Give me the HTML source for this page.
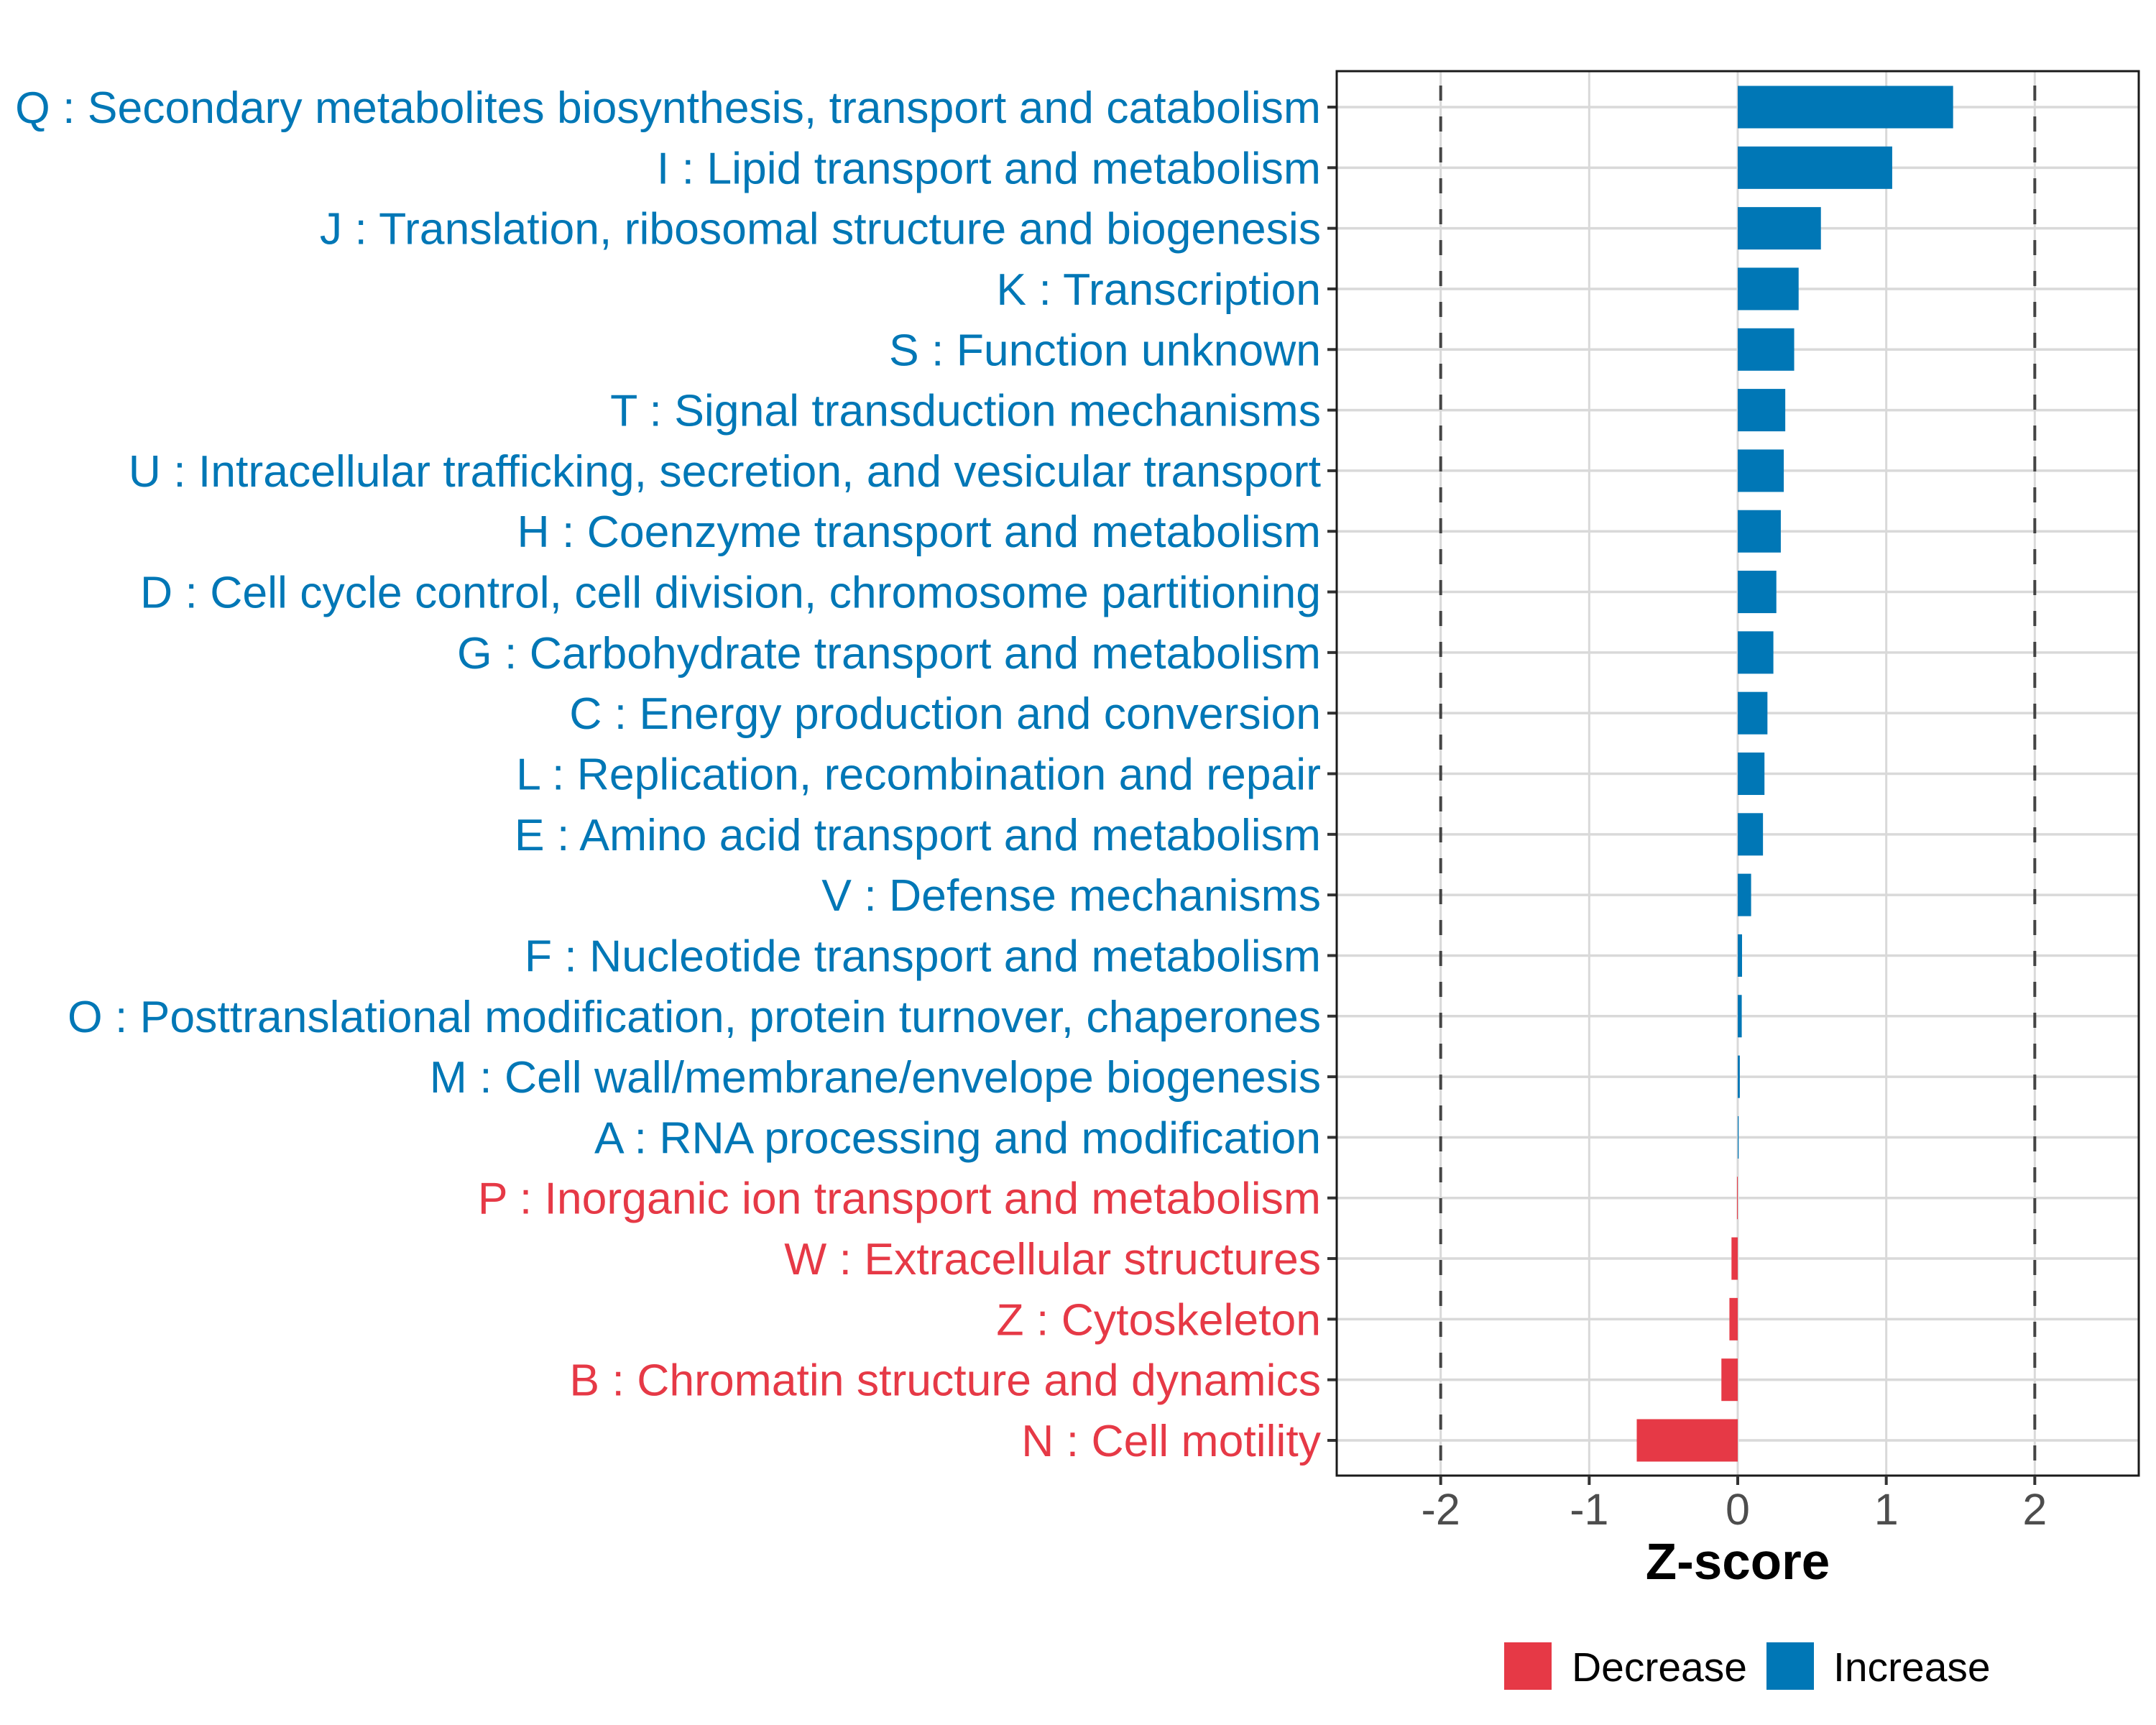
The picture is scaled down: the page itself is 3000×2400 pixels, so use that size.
<!DOCTYPE html>
<html><head><meta charset="utf-8"><style>html,body{margin:0;padding:0;background:#fff}svg{display:block}</style></head>
<body>
<svg id="chart" width="3000" height="2400" viewBox="0 0 3000 2400" xmlns="http://www.w3.org/2000/svg" font-family="Liberation Sans, Arial, sans-serif">
<rect width="3000" height="2400" fill="#fff"/>
<g id="grid"></g>
<g id="bars"></g>
<g id="ylabels"></g>
<g id="xaxis"></g>
<text x="2418" y="2197" text-anchor="middle" font-size="71" font-weight="bold" fill="#000">Z-score</text>
<g>
<rect x="2093" y="2285" width="66" height="66" fill="#E63946"/>
<text x="2187" y="2339" font-size="57" fill="#000">Decrease</text>
<rect x="2458" y="2285" width="66" height="66" fill="#0077B6"/>
<text x="2551" y="2339" font-size="57" fill="#000">Increase</text>
</g>
</svg>
<script>
const categories = ["Q : Secondary metabolites biosynthesis, transport and catabolism","I : Lipid transport and metabolism","J : Translation, ribosomal structure and biogenesis","K : Transcription","S : Function unknown","T : Signal transduction mechanisms","U : Intracellular trafficking, secretion, and vesicular transport","H : Coenzyme transport and metabolism","D : Cell cycle control, cell division, chromosome partitioning","G : Carbohydrate transport and metabolism","C : Energy production and conversion","L : Replication, recombination and repair","E : Amino acid transport and metabolism","V : Defense mechanisms","F : Nucleotide transport and metabolism","O : Posttranslational modification, protein turnover, chaperones","M : Cell wall/membrane/envelope biogenesis","A : RNA processing and modification","P : Inorganic ion transport and metabolism","W : Extracellular structures","Z : Cytoskeleton","B : Chromatin structure and dynamics","N : Cell motility"];
const zscores = [1.45,1.04,0.56,0.41,0.38,0.32,0.31,0.29,0.26,0.24,0.20,0.18,0.17,0.09,0.029,0.027,0.014,0.006,-0.005,-0.042,-0.056,-0.11,-0.68];
const xTicks = [-2,-1,0,1,2];
const xTickLabels = ["-2","-1","0","1","2"];
const thresholds = [-2,2];

const NS="http://www.w3.org/2000/svg";
const L=1860,R=2976,T=99,B=2053;
const xmin=-2.70,xmax=2.70;
function xs(v){return L+(v-xmin)/(xmax-xmin)*(R-L);}
const y0=149,step=(2004-149)/(categories.length-1);
function ys(i){return y0+i*step;}
const BLUE="#0077B6",RED="#E63946";
function mk(tag,attrs,parent){const e=document.createElementNS(NS,tag);for(const k in attrs)e.setAttribute(k,attrs[k]);parent.appendChild(e);return e;}
const grid=document.getElementById('grid'),bars=document.getElementById('bars'),yl=document.getElementById('ylabels'),xa=document.getElementById('xaxis');
xTicks.forEach(v=>{const l=mk('line',{x1:xs(v),x2:xs(v),y1:T,y2:B,stroke:'#D9D9D9','stroke-width':3},grid);

});
categories.forEach((c,i)=>{const l=mk('line',{x1:L,x2:R,y1:ys(i),y2:ys(i),stroke:'#D9D9D9','stroke-width':3.5},grid);

});
thresholds.forEach(v=>{const l=mk('line',{x1:xs(v),x2:xs(v),y1:T,y2:B,stroke:'#444','stroke-width':4,'stroke-dasharray':'21 22','stroke-dashoffset':'-20'},grid);

});
const bh=step*0.7;
categories.forEach((c,i)=>{const v=zscores[i];const x1=Math.min(xs(0),xs(v)),w=Math.abs(xs(v)-xs(0));
const r=mk('rect',{x:x1,y:ys(i)-bh/2,width:Math.max(w,0.5),height:bh,fill:v>=0?BLUE:RED},bars);


const t=mk('text',{x:1838,y:ys(i)+22,'text-anchor':'end','font-size':62.5,fill:v>=0?BLUE:RED},yl);t.textContent=c;


const tk=mk('line',{x1:1847,x2:L,y1:ys(i),y2:ys(i),stroke:'#333','stroke-width':4},yl);

});
const frame=mk('rect',{x:L,y:T,width:R-L,height:B-T,fill:'none',stroke:'#1a1a1a','stroke-width':3},xa);


xTicks.forEach((v,i)=>{const tk=mk('line',{x1:xs(v),x2:xs(v),y1:B,y2:B+13,stroke:'#333','stroke-width':4},xa);


const t=mk('text',{x:xs(v),y:2121,'text-anchor':'middle','font-size':61,fill:'#4D4D4D'},xa);t.textContent=xTickLabels[i];

});
</script>
</body></html>
